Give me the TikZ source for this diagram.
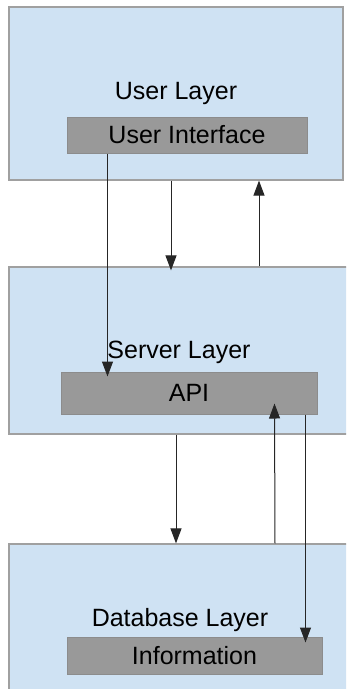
\documentclass[tikz,border=0pt]{standalone}
\usepackage{fontspec}
\setmainfont{Liberation Sans}
\usepackage{xcolor}
\usetikzlibrary{arrows.meta}

\definecolor{layerblue}{RGB}{207,226,243}
\definecolor{layeredge}{RGB}{160,160,160}
\definecolor{partgray}{RGB}{153,153,153}
\definecolor{partedge}{RGB}{140,140,140}

\tikzset{
    layer/.style = {draw = layeredge, fill = layerblue, line width = 1.2pt, inner sep = 0pt},
    part/.style = {draw = partedge, fill = partgray, line width = 1pt, inner sep = 0pt,
                   font = \fontsize{25}{28}\selectfont},
    title/.style = {inner sep = 0pt, font = \fontsize{25}{28}\selectfont},
    flow/.style = {line width = 1pt, color = black!85, -{Triangle[length = 15pt, width = 11pt]}}
}

\begin{document}
\begin{tikzpicture}[x = 1pt, y = -1pt]
        \useasboundingbox (0, 0) rectangle (346, 689);
        \clip (0, 0) rectangle (346, 689);

        % layers
        \node[layer, minimum width = 334pt, minimum height = 173pt] (user) at (176, 93.5) {};
        \node[layer, minimum width = 344pt, minimum height = 167pt] (server) at (181, 350.5) {};
        \node[layer, minimum width = 344pt, minimum height = 160pt] (db) at (181, 624) {};

        \node[title] (usertitle) at (176, 93) {User Layer};
        \node[title] (servertitle) at (179, 352) {Server Layer};
        \node[title] (dbtitle) at (180, 620) {Database Layer};

        % parts
        \node[part, minimum width = 240pt, minimum height = 36pt] (ui) at (187, 135) {User Interface};
        \node[part, minimum width = 256pt, minimum height = 42pt] (api) at (189, 393) {API};
        \node[part, minimum width = 255pt, minimum height = 37pt] (info) at (194.5, 655.5) {Information};

        % connections
        \draw[flow] ([xshift = 41pt]ui.south west) -- ([xshift = 47pt, yshift = -5pt]api.north west);
        \draw[flow] ([xshift = -5pt]user.south) -- ([xshift = -10pt, yshift = -4pt]server.north);
        \draw[flow] ([xshift = 78pt]server.north) -- ([xshift = 83pt]user.south);
        \draw[flow] ([xshift = -5pt]server.south) -- ([xshift = -5pt]db.north);
        \draw[flow] ([xshift = 94pt]db.north) -- ([xshift = 214pt, yshift = 11pt]api.south west);
        \draw[flow] ([xshift = 245pt]api.south west) -- ([xshift = 239pt, yshift = -6pt]info.north west);
    \end{tikzpicture}
\end{document}
